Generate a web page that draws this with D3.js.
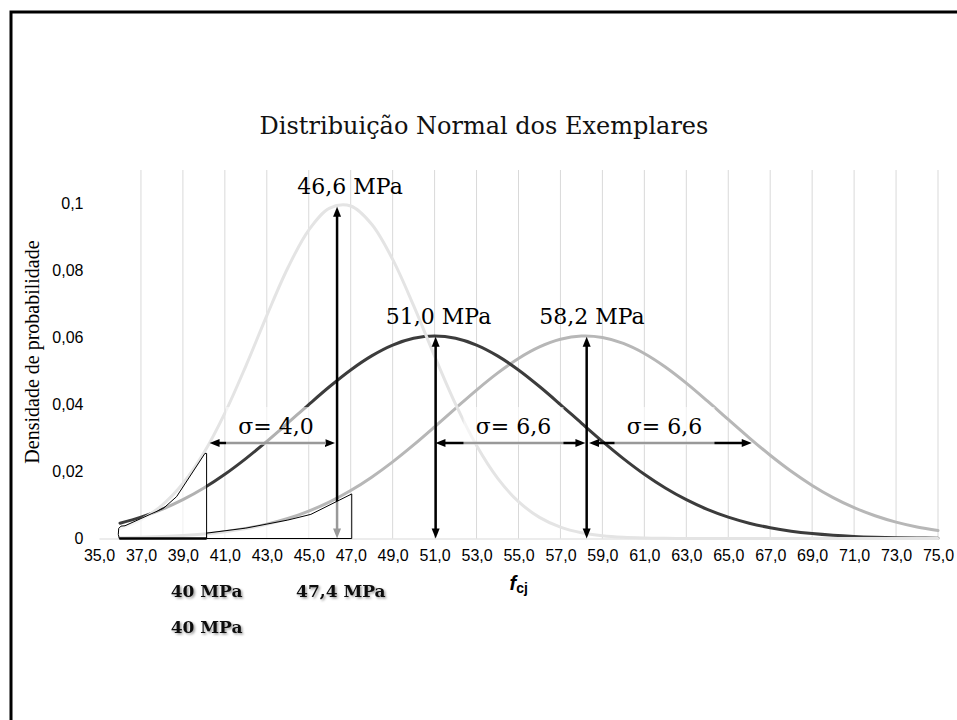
<!DOCTYPE html>
<html><head><meta charset="utf-8">
<script src="https://cdn.jsdelivr.net/npm/d3@7"></script>
<style>body{margin:0;background:#fff;overflow:hidden} svg{display:block}</style>
</head><body><div id="chart"></div>
<script>
// ---------- data ----------
const xValues = [36,37,38,39,40,41,42,43,44,45,46,47,48,49,50,51,52,53,54,55,56,57,58,59,60,61,62,63,64,65,66,67,68,69,70,71,72,73,74,75];
// média 46,6 MPa, σ = 4,0
const seriesA = [0.00298,0.00560,0.00989,0.01640,0.02557,0.03743,0.05148,0.06652,0.08074,0.09207,0.09862,0.09924,0.09381,0.08331,0.06950,0.05446,0.04010,0.02773,0.01802,0.01100,0.00631,0.00340,0.00172,0.00082,0.00036,0.00015,0.00006,0.00002,0,0,0,0,0,0,0,0,0,0,0,0];
// média 51,0 MPa, σ = 6,6
const seriesB = [0.00457,0.00637,0.00869,0.01158,0.01507,0.01918,0.02386,0.02900,0.03445,0.03999,0.04537,0.05031,0.05451,0.05773,0.05976,0.06045,0.05976,0.05773,0.05451,0.05031,0.04537,0.03999,0.03445,0.02900,0.02386,0.01918,0.01507,0.01158,0.00869,0.00637,0.00457,0.00320,0.00219,0.00147,0.00096,0.00061,0.00038,0.00023,0.00014,0.00008];
// média 58,2 MPa, σ = 6,6
const seriesC = [0.00021,0.00035,0.00056,0.00088,0.00135,0.00203,0.00297,0.00426,0.00597,0.00818,0.01095,0.01432,0.01831,0.02288,0.02794,0.03334,0.03888,0.04432,0.04937,0.05374,0.05718,0.05946,0.06042,0.06000,0.05824,0.05524,0.05121,0.04640,0.04108,0.03555,0.03007,0.02485,0.02007,0.01585,0.01222,0.00922,0.00679,0.00489,0.00344,0.00237];

const xTickValues = [35,37,39,41,43,45,47,49,51,53,55,57,59,61,63,65,67,69,71,73,75];
const gridValues = [37,39,41,43,45,47,49,51,53,55,57,59,61,63,65,67,69,71,73,75];
const yTickValues = [0,0.02,0.04,0.06,0.08,0.1];

const peakLabels = ["46,6 MPa","51,0 MPa","58,2 MPa"];
const peakArrowX = [46.35, 51.05, 58.25];
const peakArrowTop = [0.0990, 0.0602, 0.0602];
const peakLabelX = [46.97, 51.19, 58.5];

const sigmaLabels = ["σ= 4,0","σ= 6,6","σ= 6,6"];
const sigmaFrom = [40.27, 51.04, 58.36];
const sigmaTo = [46.25, 58.19, 66.12];
const sigmaY = [0.0285, 0.0285, 0.0285];
const sigmaLabelX = [43.44, 54.76, 61.96];

const limitLabels = ["40 MPa","47,4 MPa","40 MPa"];
const limitLabelX = [40.13, 46.53, 40.13];
const limitRow = [0, 0, 1];

// áreas (contornos) sob as curvas
const regionLeftX = [35.97,35.92,35.94,36.05,36.24,38.07,38.70,40.05,40.13,40.13];
const regionLeftY = [0,0.0012,0.0030,0.0037,0.0038,0.0090,0.0125,0.0254,0.0254,0];
const regionRightX = [40.13,40.13,42.0,44.0,45.1,47.05,47.05];
const regionRightY = [0,0.0016,0.0031,0.0055,0.0072,0.0133,0];

// ---------- chart ----------
const W = 957, H = 720;
const svg = d3.select("#chart").append("svg").attr("width", W).attr("height", H);
const x = d3.scaleLinear().domain([35, 75]).range([99, 938]);
const y = d3.scaleLinear().domain([0, 0.11]).range([538.5, 170]);

const defs = svg.append("defs");
const flt = defs.append("filter").attr("id","shadow").attr("x","-20%").attr("y","-50%").attr("width","150%").attr("height","200%");
flt.append("feDropShadow").attr("dx",1.5).attr("dy",1.5).attr("stdDeviation",1).attr("flood-color","#000").attr("flood-opacity",0.4);

// frame
svg.append("rect").attr("x",11).attr("y",12).attr("width",1100).attr("height",1100)
  .attr("fill","none").attr("stroke","#000").attr("stroke-width",3);

// title
svg.append("text").attr("x",484).attr("y",134).attr("text-anchor","middle")
  .attr("font-family","DejaVu Serif").attr("font-size",24).attr("fill","#111")
  .text("Distribuição Normal dos Exemplares");

// gridlines
svg.append("g").selectAll("line").data(gridValues).join("line")
  .attr("x1", d=>x(d)).attr("x2", d=>x(d)).attr("y1", y(0)).attr("y2", y(0.11))
  .attr("stroke","#d9d9d9").attr("stroke-width",1);

// axes
const fmtX = d => d.toFixed(1).replace(".", ",");
const fmtY = d => String(+d.toFixed(2)).replace(".", ",");
const gx = svg.append("g").attr("transform",`translate(0,${y(0)})`)
  .call(d3.axisBottom(x).tickValues(xTickValues).tickFormat(fmtX).tickSize(0).tickPadding(11.6));
gx.select(".domain").attr("stroke","#d9d9d9").attr("stroke-width",1);
gx.selectAll("text").attr("font-family","Liberation Sans").attr("font-size",16).attr("fill","#000");
const gy = svg.append("g").attr("transform",`translate(${x(35)},0)`)
  .call(d3.axisLeft(y).tickValues(yTickValues).tickFormat(fmtY).tickSize(0).tickPadding(15.5));
gy.select(".domain").remove();
gy.selectAll("text").attr("font-family","Liberation Sans").attr("font-size",16).attr("fill","#000");

// axis titles
svg.append("text").attr("transform","translate(38.5,352) rotate(-90)").attr("text-anchor","middle")
  .attr("font-family","Liberation Serif").attr("font-size",20).attr("fill","#000")
  .text("Densidade de probabilidade");
const xt = svg.append("text").attr("x",509.5).attr("y",590)
  .attr("font-family","Liberation Sans").attr("font-weight","bold").attr("fill","#000");
xt.append("tspan").attr("font-size",20).attr("font-style","italic").text("f");
xt.append("tspan").attr("font-size",14).attr("dy",3).text("cj");

// curves
const line = d3.line().x((d,i)=>x(xValues[i])).y(d=>y(d)).curve(d3.curveCatmullRom.alpha(0.5));
const curves = [
  {data: seriesC, color: "#b7b7b7"},
  {data: seriesB, color: "#3c3c3c"},
  {data: seriesA, color: "#e4e4e4"}
];
svg.append("g").selectAll("path").data(curves).join("path")
  .attr("d", d=>line(d.data)).attr("fill","none").attr("stroke", d=>d.color)
  .attr("stroke-width",3).attr("stroke-linejoin","round").attr("stroke-linecap","round");

// arrow helper
function arrow(g, x1, y1, x2, y2, w, hl, hw, color) {
  const dx = x2-x1, dy = y2-y1, L = Math.hypot(dx,dy), ux = dx/L, uy = dy/L, px = -uy, py = ux;
  g.append("line").attr("x1", x1+ux*hl*0.8).attr("y1", y1+uy*hl*0.8)
    .attr("x2", x2-ux*hl*0.8).attr("y2", y2-uy*hl*0.8).attr("stroke",color).attr("stroke-width",w);
  const head = (tx,ty,sx,sy) => `M${tx},${ty}L${tx-sx*hl+px*hw/2},${ty-sy*hl+py*hw/2}L${tx-sx*hl-px*hw/2},${ty-sy*hl-py*hw/2}Z`;
  g.append("path").attr("d", head(x2,y2,ux,uy)).attr("fill",color);
  g.append("path").attr("d", head(x1,y1,-ux,-uy)).attr("fill",color);
}
const ga = svg.append("g");
peakArrowX.forEach((v,i)=> arrow(ga, x(v), y(0), x(v), y(peakArrowTop[i]), 2.5, 10, 8, "#000"));
sigmaFrom.forEach((v,i)=> arrow(ga, x(v), y(sigmaY[i]), x(sigmaTo[i]), y(sigmaY[i]), 2.5, 10, 8, "#000"));

// sigma text boxes (semi-transparent)
const gs = svg.append("g");
sigmaLabels.forEach((t,i)=>{
  const cx = x(sigmaLabelX[i]), by = y(sigmaY[i]) - 9;
  gs.append("rect").attr("x", cx-50).attr("y", by-27).attr("width",100).attr("height",38)
    .attr("fill","#fff").attr("fill-opacity",0.6);
  gs.append("text").attr("x", cx).attr("y", by).attr("text-anchor","middle")
    .attr("font-family","DejaVu Serif").attr("font-size",22).attr("fill","#000").text(t);
});

// regions
const poly = (xs, ys) => d3.line().x((d,i)=>x(xs[i])).y(d=>y(d))(ys) + "Z";
svg.append("path").attr("d", poly(regionLeftX, regionLeftY))
  .attr("fill","#fff").attr("fill-opacity",0.6).attr("stroke","#000").attr("stroke-width",1);
svg.append("path").attr("d", poly(regionRightX, regionRightY))
  .attr("fill","#fff").attr("fill-opacity",0.6).attr("stroke","#000").attr("stroke-width",1);
// thicker base of the left region
svg.append("line").attr("x1", x(regionLeftX[0])).attr("x2", x(regionLeftX[regionLeftX.length-1]))
  .attr("y1", y(0)).attr("y2", y(0)).attr("stroke","#000").attr("stroke-width",2.5);

// peak labels
peakLabels.forEach((t,i)=>{
  svg.append("text").attr("x", x(peakLabelX[i])).attr("y", y(peakArrowTop[i]) - 13)
    .attr("text-anchor","middle").attr("font-family","DejaVu Serif").attr("font-size",22)
    .attr("fill","#000").text(t);
});

// limit labels
limitLabels.forEach((t,i)=>{
  svg.append("text").attr("x", x(limitLabelX[i])).attr("y", y(0) + 58 + limitRow[i]*36.6)
    .attr("text-anchor","middle").attr("font-family","DejaVu Serif").attr("font-weight","bold")
    .attr("font-size",17).attr("fill","#111").attr("filter","url(#shadow)").text(t);
});
</script>
</body></html>
